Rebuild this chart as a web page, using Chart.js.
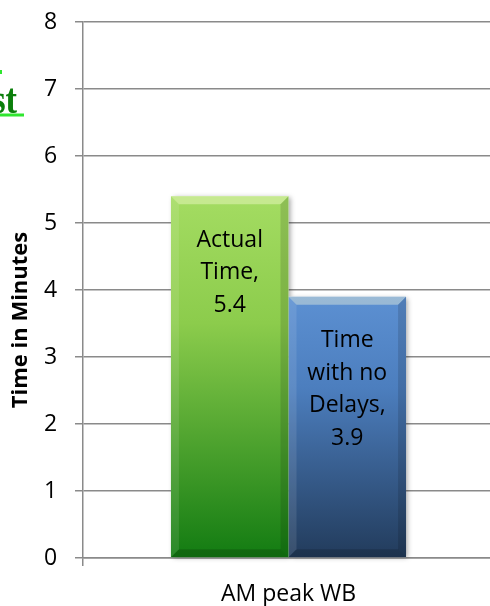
<!DOCTYPE html>
<html>
<head>
<meta charset="utf-8">
<script src="https://cdn.jsdelivr.net/npm/chart.js@4.4.1/dist/chart.umd.min.js"></script>
<style>
  html, body { margin: 0; padding: 0; background: #fff; overflow: hidden; width: 490px; height: 606px; }
  canvas { display: block; }
</style>
</head>
<body>
<canvas id="chart" width="496" height="606"></canvas>
<script>
// Travel time for the AM peak westbound trip, in minutes
const categories = ['AM peak WB'];
const seriesNames = [['Actual', 'Time'], ['Time', 'with no', 'Delays']];
const actualTime = [5.4];
const noDelayTime = [3.9];
const yTicks = [0, 1, 2, 3, 4, 5, 6, 7, 8];
const axisTitle = 'Time in Minutes';
const headingFragment = 'st';

const FONT = '"Open Sans", "Liberation Sans", sans-serif';
const GRID = '#8a8a8a';

// Vertical gradient spanning each bar from its top to the baseline
function barGradient(stops) {
  return (ctx) => {
    const chart = ctx.chart;
    if (!chart.chartArea || ctx.type !== 'data') return stops[0][1];
    const y = chart.scales.y;
    const top = y.getPixelForValue(ctx.raw);
    const bottom = y.getPixelForValue(0);
    const g = chart.ctx.createLinearGradient(0, top, 0, bottom);
    stops.forEach(([o, c]) => g.addColorStop(o, c));
    return g;
  };
}

function eachBar(chart, fn) {
  chart.data.datasets.forEach((ds, i) => {
    chart.getDatasetMeta(i).data.forEach((bar, j) => {
      const p = bar.getProps(['x', 'y', 'base', 'width'], true);
      fn(p, ds, i, j);
    });
  });
}

// Soft drop shadow behind the bars
const shadowPlugin = {
  id: 'barShadow',
  beforeDatasetsDraw(chart) {
    const ctx = chart.ctx;
    ctx.save();
    ctx.shadowColor = 'rgba(0,0,0,0.35)';
    ctx.shadowBlur = 5;
    ctx.shadowOffsetX = 2;
    ctx.shadowOffsetY = 1;
    ctx.fillStyle = '#ffffff';
    eachBar(chart, (p) => {
      ctx.fillRect(p.x - p.width / 2, p.y, p.width, p.base - p.y);
    });
    ctx.restore();
  }
};

// Bevelled edges on each bar
const bevelPlugin = {
  id: 'bevel',
  afterDatasetsDraw(chart) {
    const ctx = chart.ctx;
    const s = 8;
    ctx.save();
    const quad = (pts, fill) => {
      ctx.beginPath();
      ctx.moveTo(pts[0][0], pts[0][1]);
      for (let k = 1; k < pts.length; k++) ctx.lineTo(pts[k][0], pts[k][1]);
      ctx.closePath();
      ctx.fillStyle = fill;
      ctx.fill();
    };
    eachBar(chart, (p) => {
      const l = p.x - p.width / 2, r = p.x + p.width / 2, t = p.y, b = p.base;
      quad([[l, t], [r, t], [r - s, t + s], [l + s, t + s]], 'rgba(255,255,220,0.38)');
      quad([[l, t], [l + s, t + s], [l + s, b - s], [l, b]], 'rgba(255,255,255,0.10)');
      quad([[r, t], [r, b], [r - s, b - s], [r - s, t + s]], 'rgba(0,0,0,0.13)');
      quad([[l, b], [l + s, b - s], [r - s, b - s], [r, b]], 'rgba(0,0,0,0.16)');
    });
    ctx.restore();
  }
};

// Series name and value written inside each bar
const valueLabelPlugin = {
  id: 'valueLabels',
  afterDatasetsDraw(chart) {
    const ctx = chart.ctx;
    ctx.save();
    ctx.font = '23px ' + FONT;
    ctx.fillStyle = '#000';
    ctx.textAlign = 'center';
    ctx.textBaseline = 'middle';
    eachBar(chart, (p, ds, i, j) => {
      const name = seriesNames[i].slice();
      name[name.length - 1] += ',';
      const lines = name.concat([String(ds.data[j])]);
      lines.forEach((line, k) => {
        ctx.fillText(line, p.x, p.y + 44 + k * 32.5);
      });
    });
    ctx.restore();
  }
};

// Rotated value-axis title
const axisTitlePlugin = {
  id: 'axisTitle',
  afterDraw(chart) {
    const ctx = chart.ctx;
    ctx.save();
    ctx.translate(21, 320);
    ctx.rotate(-Math.PI / 2);
    ctx.font = 'bold 22px ' + FONT;
    ctx.fillStyle = '#000';
    ctx.textAlign = 'center';
    ctx.textBaseline = 'middle';
    ctx.fillText(axisTitle, 0, 0);
    ctx.restore();
  }
};

// Underlined heading text running in from the left edge
const headingPlugin = {
  id: 'heading',
  afterDraw(chart) {
    const ctx = chart.ctx;
    ctx.save();
    ctx.save();
    ctx.translate(17, 113);
    ctx.scale(0.8, 1);
    ctx.font = 'bold 43px "Liberation Serif", "DejaVu Serif", serif';
    ctx.fillStyle = '#0b7f0b';
    ctx.textAlign = 'right';
    ctx.textBaseline = 'alphabetic';
    ctx.fillText(headingFragment, 0, 0);
    ctx.restore();
    ctx.fillStyle = '#2fe62f';
    ctx.fillRect(0, 113.5, 24, 3);
    ctx.fillRect(0, 70, 2, 4);
    ctx.restore();
  }
};

new Chart(document.getElementById('chart'), {
  type: 'bar',
  data: {
    labels: categories,
    datasets: [
      {
        label: seriesNames[0].join(' '),
        data: actualTime,
        backgroundColor: barGradient([[0, '#a4dc62'], [0.35, '#8ccc4c'], [1, '#127b12']]),
        borderWidth: 0,
        barPercentage: 1,
        categoryPercentage: 0.572
      },
      {
        label: seriesNames[1].join(' '),
        data: noDelayTime,
        backgroundColor: barGradient([[0, '#5c90d2'], [0.35, '#4c7ebe'], [1, '#223b5b']]),
        borderWidth: 0,
        barPercentage: 1,
        categoryPercentage: 0.572
      }
    ]
  },
  options: {
    responsive: false,
    animation: false,
    layout: { padding: { top: 22, right: 2, left: 44, bottom: 0 } },
    plugins: {
      legend: { display: false },
      tooltip: { enabled: false },
      title: { display: false }
    },
    scales: {
      x: {
        grid: { display: true, drawOnChartArea: false, drawTicks: true, tickLength: 8, color: GRID, lineWidth: 1.5 },
        border: { display: true, color: GRID, width: 1.5 },
        ticks: { color: '#000', font: { family: FONT, size: 23 }, padding: 15 },
        afterFit: (scale) => { scale.height = 48; }
      },
      y: {
        min: yTicks[0],
        max: yTicks[yTicks.length - 1],
        afterBuildTicks: (scale) => { scale.ticks = yTicks.map(v => ({ value: v })); },
        grid: { color: GRID, lineWidth: 1.5, tickLength: 8, drawTicks: true },
        border: { display: true, color: GRID, width: 1.5 },
        ticks: { color: '#000', font: { family: FONT, size: 23 }, padding: 0, crossAlign: 'far' },
        afterFit: (scale) => { scale.width = 39; }
      }
    }
  },
  plugins: [shadowPlugin, bevelPlugin, valueLabelPlugin, axisTitlePlugin, headingPlugin]
});
</script>
</body>
</html>
